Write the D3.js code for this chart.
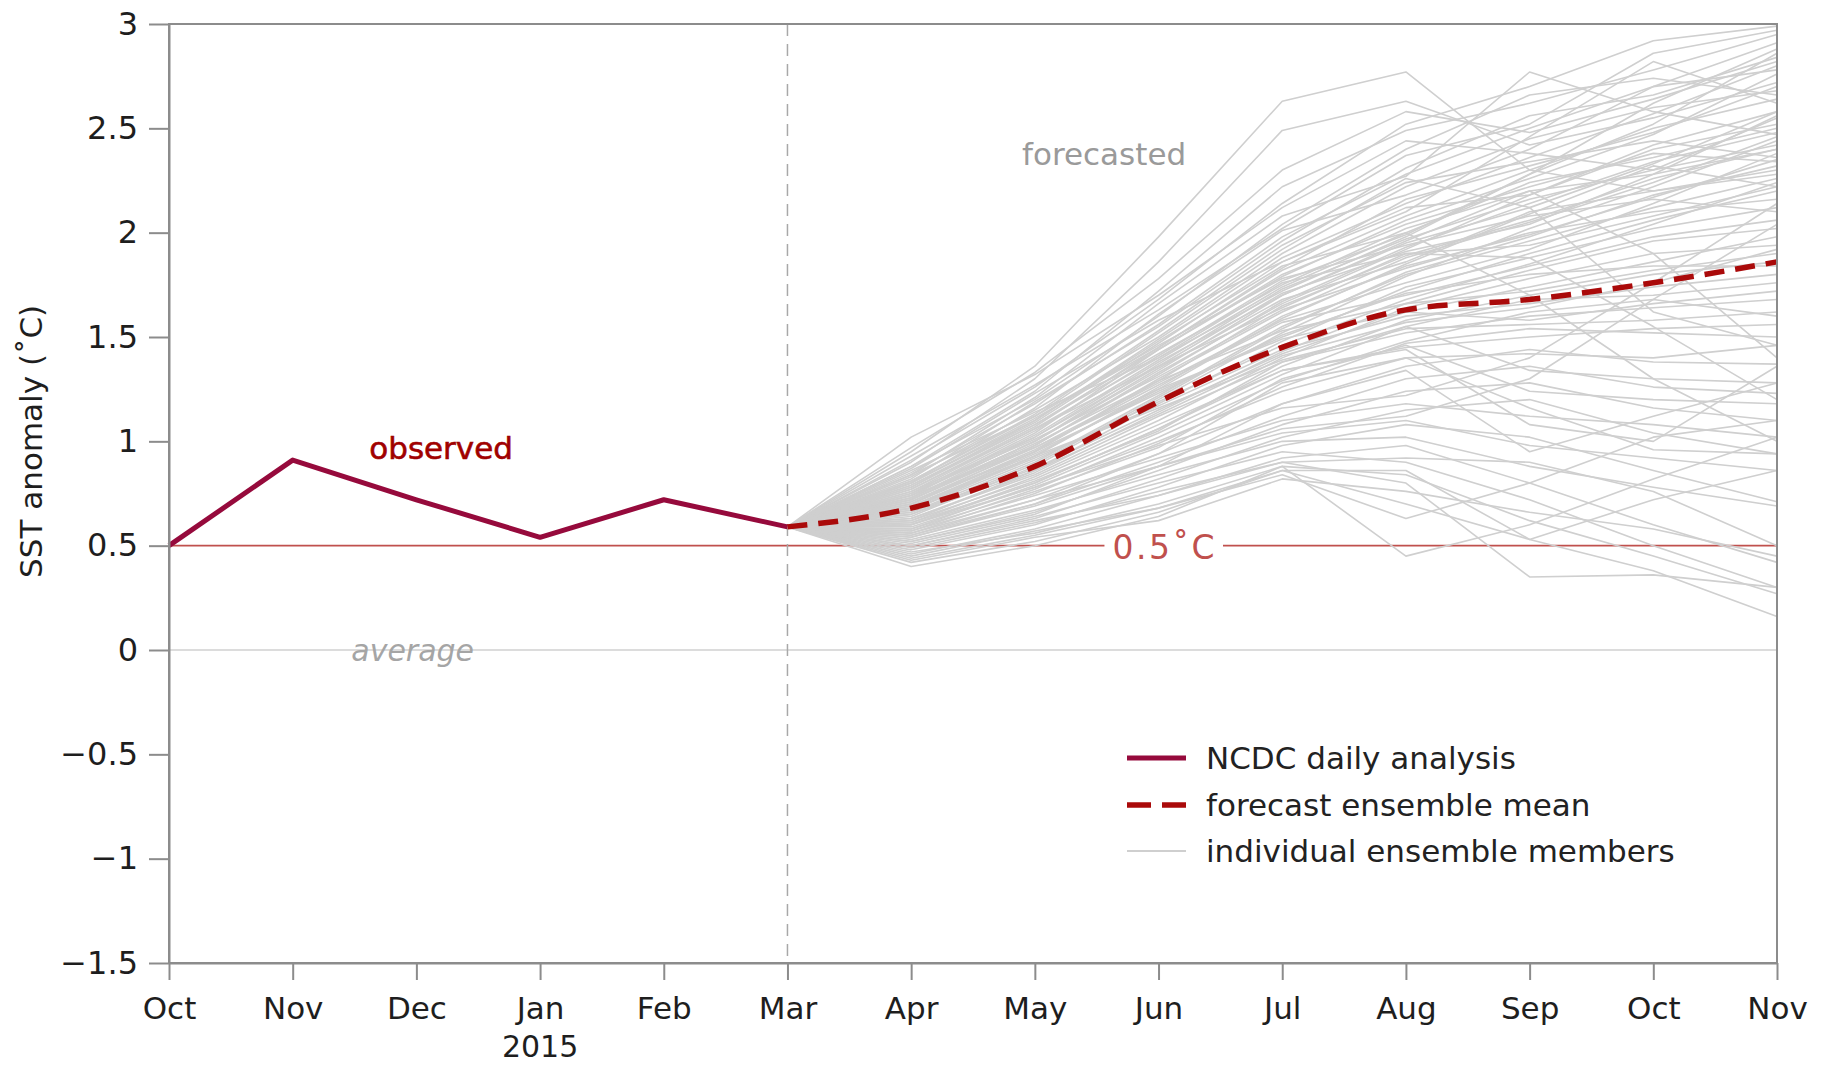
<!DOCTYPE html>
<html><head><meta charset="utf-8">
<script src="https://cdn.jsdelivr.net/npm/d3@7"></script>
<style>
html,body{margin:0;padding:0;background:#fff;}
svg{display:block;}
text{font-family:"DejaVu Sans",sans-serif;}
</style></head>
<body><svg id="chart" width="1826" height="1068"></svg>
<script>
// ---------- DATA ----------
const monthLabels = ["Oct","Nov","Dec","Jan","Feb","Mar","Apr","May","Jun","Jul","Aug","Sep","Oct","Nov"];
const yTicks = [3, 2.5, 2, 1.5, 1, 0.5, 0, -0.5, -1, -1.5];
const observedMonths = [0,1,2,3,4,5];           // Oct 2014 .. Mar 2015
const observed = [0.50, 0.91, 0.72, 0.54, 0.72, 0.59];
const forecastMonths = [5,6,7,8,9,10,11,12,13]; // Mar .. Nov 2015
const forecastMean = [0.59, 0.68, 0.88, 1.19, 1.45, 1.63, 1.68, 1.76, 1.86];
const startValue = 0.59; // every member starts at Mar value
// members: values for Apr, May, Jun, Jul, Aug, Sep, Oct, Nov
const members = [
 [0.95,1.36,1.98,2.63,2.77,2.30,2.20,2.28],
 [0.90,1.30,1.86,2.49,2.63,2.42,2.55,2.72],
 [0.88,1.24,1.72,2.22,2.49,2.62,2.78,2.95],
 [0.84,1.21,1.66,2.08,2.27,2.77,2.58,2.47],
 [0.93,1.27,1.63,2.02,2.37,2.52,2.86,2.97],
 [0.80,1.16,1.61,2.01,2.18,2.40,2.70,2.91],
 [0.82,1.19,1.55,1.96,2.31,2.56,2.66,2.84],
 [0.78,1.10,1.49,1.88,2.14,2.36,2.57,2.80],
 [0.87,1.23,1.58,1.86,2.10,2.46,2.82,2.62],
 [0.74,1.04,1.44,1.79,2.06,2.26,2.47,2.76],
 [1.02,1.32,1.70,2.12,2.44,2.38,2.30,2.55],
 [0.86,1.14,1.40,1.72,1.98,2.28,2.62,2.88],
 [0.76,1.02,1.38,1.70,1.95,2.12,2.33,2.58],
 [0.72,0.98,1.33,1.66,1.92,2.18,2.40,2.52],
 [0.70,0.95,1.30,1.62,1.88,2.05,2.24,2.46],
 [0.79,1.08,1.42,1.75,2.02,2.20,2.28,2.40],
 [0.68,0.93,1.26,1.60,1.84,1.99,2.17,2.35],
 [0.73,1.00,1.35,1.68,1.86,2.10,2.20,2.30],
 [0.66,0.90,1.22,1.55,1.80,1.96,2.12,2.26],
 [0.77,1.06,1.36,1.64,1.90,1.94,2.08,2.22],
 [0.71,0.97,1.28,1.58,1.76,1.92,2.14,2.38],
 [0.64,0.88,1.20,1.52,1.79,2.02,2.22,2.44],
 [0.69,0.94,1.24,1.50,1.72,1.90,2.06,2.20],
 [0.75,1.01,1.31,1.63,1.83,2.00,2.10,2.16],
 [0.62,0.86,1.18,1.48,1.74,1.88,2.02,2.12],
 [0.67,0.91,1.19,1.46,1.68,1.85,2.04,2.24],
 [0.81,1.12,1.46,1.78,1.94,2.08,2.16,2.10],
 [0.65,0.89,1.21,1.54,1.81,1.98,2.18,2.32],
 [0.70,0.96,1.27,1.57,1.70,1.84,1.98,2.06],
 [0.63,0.85,1.14,1.43,1.66,1.82,1.96,2.02],
 [0.66,0.87,1.15,1.42,1.62,1.74,1.86,1.98],
 [0.61,0.83,1.10,1.40,1.64,1.78,1.90,1.94],
 [0.72,0.99,1.29,1.53,1.66,1.72,1.82,1.90],
 [0.60,0.80,1.06,1.36,1.58,1.70,1.80,1.86],
 [0.68,0.92,1.17,1.44,1.60,1.66,1.74,1.80],
 [0.58,0.79,1.04,1.32,1.55,1.68,1.70,1.76],
 [0.74,0.97,1.25,1.49,1.62,1.58,1.66,1.72],
 [0.63,0.84,1.12,1.38,1.52,1.60,1.64,1.68],
 [0.57,0.77,1.02,1.29,1.48,1.62,1.68,1.60],
 [0.69,0.93,1.16,1.39,1.54,1.56,1.58,1.62],
 [0.62,0.82,1.08,1.34,1.45,1.50,1.54,1.56],
 [0.56,0.75,0.99,1.26,1.47,1.54,1.52,1.50],
 [0.71,0.95,1.23,1.51,1.71,1.80,1.84,1.84],
 [0.65,0.86,1.13,1.41,1.57,1.64,1.76,1.92],
 [0.59,0.78,1.00,1.24,1.40,1.42,1.40,1.46],
 [0.55,0.72,0.94,1.18,1.36,1.44,1.38,1.37],
 [0.60,0.81,1.05,1.38,1.55,1.34,1.30,1.28],
 [0.54,0.70,0.90,1.12,1.30,1.36,1.26,1.23],
 [0.58,0.76,0.97,1.30,1.46,1.24,1.20,1.18],
 [0.52,0.66,0.86,1.08,1.24,1.28,1.16,1.10],
 [0.57,0.74,0.92,1.10,1.18,1.12,1.08,1.02],
 [0.50,0.63,0.82,1.02,1.15,1.20,1.04,0.94],
 [0.56,0.72,0.88,1.04,1.10,0.98,0.92,0.86],
 [0.48,0.60,0.78,0.98,1.08,1.02,0.86,0.71],
 [0.53,0.67,0.84,1.00,1.02,0.88,0.78,0.69],
 [0.46,0.58,0.74,0.92,0.98,0.80,0.60,0.42],
 [0.51,0.64,0.80,0.95,0.90,0.72,0.50,0.30],
 [0.47,0.56,0.70,0.88,0.84,0.62,0.45,0.27],
 [0.44,0.55,0.68,0.86,0.86,0.53,0.38,0.16],
 [0.49,0.61,0.76,0.90,0.80,0.35,0.36,0.30],
 [0.42,0.52,0.66,0.86,0.70,0.53,0.72,0.86],
 [0.45,0.57,0.68,0.84,0.63,0.80,1.02,1.10],
 [0.40,0.50,0.64,0.88,0.45,0.60,0.82,1.02],
 [0.52,0.65,0.88,1.18,1.34,0.95,1.12,1.28],
 [0.55,0.70,0.94,1.28,1.40,1.16,0.96,0.94],
 [0.61,0.80,1.06,1.34,1.44,1.08,1.00,1.36],
 [0.50,0.62,0.74,0.90,0.92,0.90,0.76,0.50],
 [0.43,0.54,0.62,0.82,0.76,0.66,0.58,0.45],
 [0.80,1.10,1.48,1.84,2.00,1.70,1.30,1.00],
 [0.76,1.06,1.40,1.76,1.90,1.88,1.55,1.20],
 [0.73,1.00,1.34,1.70,1.96,2.20,1.90,1.40],
 [0.84,1.12,1.52,1.92,2.26,2.12,1.62,1.46],
 [0.60,0.78,0.98,1.16,1.22,1.40,1.76,2.14],
 [0.54,0.69,0.88,1.06,1.12,1.30,1.68,2.04],
 [0.83,1.15,1.50,1.90,2.22,2.45,2.60,2.68],
 [0.77,1.07,1.45,1.82,2.08,2.30,2.50,2.64],
 [0.79,1.09,1.47,1.86,2.12,2.18,2.42,2.58],
 [0.74,1.03,1.39,1.74,2.00,2.24,2.36,2.50],
 [0.81,1.13,1.53,1.94,2.24,2.34,2.44,2.36],
 [0.72,1.00,1.37,1.73,1.97,2.16,2.30,2.42],
 [0.85,1.18,1.56,1.98,2.28,2.50,2.70,2.78],
 [0.70,0.98,1.32,1.67,1.93,2.14,2.34,2.48],
 [0.78,1.08,1.44,1.80,2.04,2.22,2.38,2.34],
 [0.68,0.95,1.29,1.65,1.89,2.06,2.26,2.40],
 [0.88,1.20,1.60,2.04,2.40,2.66,2.74,2.66],
 [0.75,1.05,1.41,1.77,1.99,2.28,2.52,2.86],
 [0.73,1.02,1.36,1.71,1.91,2.04,2.28,2.56],
 [0.67,0.93,1.25,1.59,1.85,2.09,2.32,2.22],
 [0.80,1.11,1.45,1.83,2.16,2.32,2.48,2.70],
 [0.91,1.26,1.68,2.14,2.52,2.70,2.92,2.99],
 [0.97,1.33,1.78,2.30,2.58,2.48,2.64,2.82]
];
const legendItems = ["NCDC daily analysis","forecast ensemble mean","individual ensemble members"];

// ---------- LAYOUT ----------
const W = 1826, H = 1068;
const m = {left:169, right:49, top:24, bottom:105};
const svg = d3.select("#chart");
const x = d3.scalePoint().domain(d3.range(monthLabels.length)).range([m.left, W - m.right]);
const y = d3.scaleLinear().domain([-1.5, 3]).range([H - m.bottom, m.top]);
const xi = d3.scaleLinear().domain([0, monthLabels.length - 1]).range([m.left, W - m.right]);

const cObs = "#960a3c", cMean = "#aa0a0a", cEns = "#cfcfcf", cRef = "#c0504d";

// zero (average) line
svg.append("line").attr("x1", x(0)).attr("x2", x(13)).attr("y1", y(0)).attr("y2", y(0))
  .attr("stroke", "#dcdcdc").attr("stroke-width", 2);

// 0.5 label & reference line with gap
const refLabel = svg.append("text").attr("x", xi(8.05)).attr("y", y(0.5)).attr("dy", "0.4em")
  .attr("text-anchor", "middle").attr("fill", cRef).attr("font-size", 33)
  .attr("letter-spacing", 2.5).text("0.5\u02DAC");
const rb = refLabel.node().getBBox();
svg.insert("line", "text").attr("x1", x(0)).attr("x2", rb.x - 8).attr("y1", y(0.5)).attr("y2", y(0.5))
  .attr("stroke", cRef).attr("stroke-width", 1.6);
svg.insert("line", "text").attr("x1", rb.x + rb.width + 6).attr("x2", x(13)).attr("y1", y(0.5)).attr("y2", y(0.5))
  .attr("stroke", cRef).attr("stroke-width", 1.6);

// vertical dashed line at Mar
svg.append("line").attr("x1", x(5)).attr("x2", x(5)).attr("y1", y(3)).attr("y2", y(-1.5))
  .attr("stroke", "#a8a8a8").attr("stroke-width", 1.5).attr("stroke-dasharray", "12,8");

// ensemble members
const lineGen = d3.line().x(d => x(d[0])).y(d => y(d[1]));
const gEns = svg.append("g");
members.forEach(mem => {
  const pts = [[5, startValue]].concat(mem.map((v, i) => [6 + i, v]));
  gEns.append("path").attr("d", lineGen(pts)).attr("fill", "none")
    .attr("stroke", cEns).attr("stroke-width", 1.6).attr("stroke-linejoin", "round");
});

// observed
svg.append("path").attr("d", lineGen(observed.map((v, i) => [observedMonths[i], v])))
  .attr("fill", "none").attr("stroke", cObs).attr("stroke-width", 5).attr("stroke-linejoin", "round");

// forecast mean
const meanGen = d3.line().x(d => x(d[0])).y(d => y(d[1])).curve(d3.curveMonotoneX);
svg.append("path").attr("d", meanGen(forecastMean.map((v, i) => [forecastMonths[i], v])))
  .attr("fill", "none").attr("stroke", cMean).attr("stroke-width", 5.5).attr("stroke-dasharray", "20,11");

// frame
svg.append("rect").attr("x", x(0)).attr("y", y(3)).attr("width", x(13) - x(0)).attr("height", y(-1.5) - y(3))
  .attr("fill", "none").attr("stroke", "#8c8c8c").attr("stroke-width", 2);

// axes
const fmt = d3.format("");
const yAxis = svg.append("g").attr("transform", `translate(${m.left},0)`)
  .call(d3.axisLeft(y).tickValues(yTicks).tickSize(20).tickPadding(11).tickSizeOuter(0)
  .tickFormat(d => (d < 0 ? "\u2212" : "") + fmt(Math.abs(d))));
const xAxis = svg.append("g").attr("transform", `translate(0,${H - m.bottom})`)
  .call(d3.axisBottom(x).tickSize(17).tickPadding(17).tickSizeOuter(0).tickFormat(i => monthLabels[i]));
[yAxis, xAxis].forEach(g => {
  g.select(".domain").attr("stroke", "#8c8c8c").attr("stroke-width", 2);
  g.selectAll(".tick line").attr("stroke", "#8c8c8c").attr("stroke-width", 2);
  g.selectAll(".tick text").attr("fill", "#1e1e1e").attr("font-size", 31)
    .attr("font-family", "DejaVu Sans, sans-serif");
});
yAxis.selectAll(".tick text").attr("font-size", 32);

// year label
svg.append("text").attr("x", x(3)).attr("y", 1057).attr("text-anchor", "middle")
  .attr("fill", "#1e1e1e").attr("font-size", 30).text("2015");

// y-axis title
svg.append("text").attr("transform", `translate(42,${(y(0.5)+y(1.5))/2 + 0}) rotate(-90)`)
  .attr("text-anchor", "middle").attr("fill", "#1e1e1e").attr("font-size", 31)
  .attr("font-family", "Open Sans, sans-serif").text("SST anomaly (\u02DAC)");

// annotations
svg.append("text").attr("x", xi(2.2)).attr("y", y(0.97)).attr("dy", "0.36em").attr("text-anchor", "middle")
  .attr("fill", "#a00000").attr("font-size", 31).attr("stroke", "#a00000").attr("stroke-width", 0.6).text("observed");
svg.append("text").attr("x", xi(7.56)).attr("y", y(2.38)).attr("dy", "0.36em").attr("text-anchor", "middle")
  .attr("fill", "#9a9a9a").attr("font-size", 31).text("forecasted");
svg.append("text").attr("x", xi(1.97)).attr("y", y(0)).attr("dy", "0.36em").attr("text-anchor", "middle")
  .attr("fill", "#a5a5a5").attr("font-size", 30).attr("font-style", "italic").text("average");

// legend
const lg = svg.append("g");
const rowsY = [758, 805, 851];
const lx1 = 1127, lx2 = 1186;
lg.append("line").attr("x1", lx1).attr("x2", lx2).attr("y1", rowsY[0]).attr("y2", rowsY[0])
  .attr("stroke", cObs).attr("stroke-width", 5);
lg.append("line").attr("x1", lx1).attr("x2", lx2).attr("y1", rowsY[1]).attr("y2", rowsY[1])
  .attr("stroke", cMean).attr("stroke-width", 5.5).attr("stroke-dasharray", "24,11");
lg.append("line").attr("x1", lx1).attr("x2", lx2).attr("y1", rowsY[2]).attr("y2", rowsY[2])
  .attr("stroke", cEns).attr("stroke-width", 2);
legendItems.forEach((t, i) => {
  lg.append("text").attr("x", 1206).attr("y", rowsY[i]).attr("dy", "0.36em")
    .attr("fill", "#222").attr("font-size", 31).text(t);
});
</script></body></html>
